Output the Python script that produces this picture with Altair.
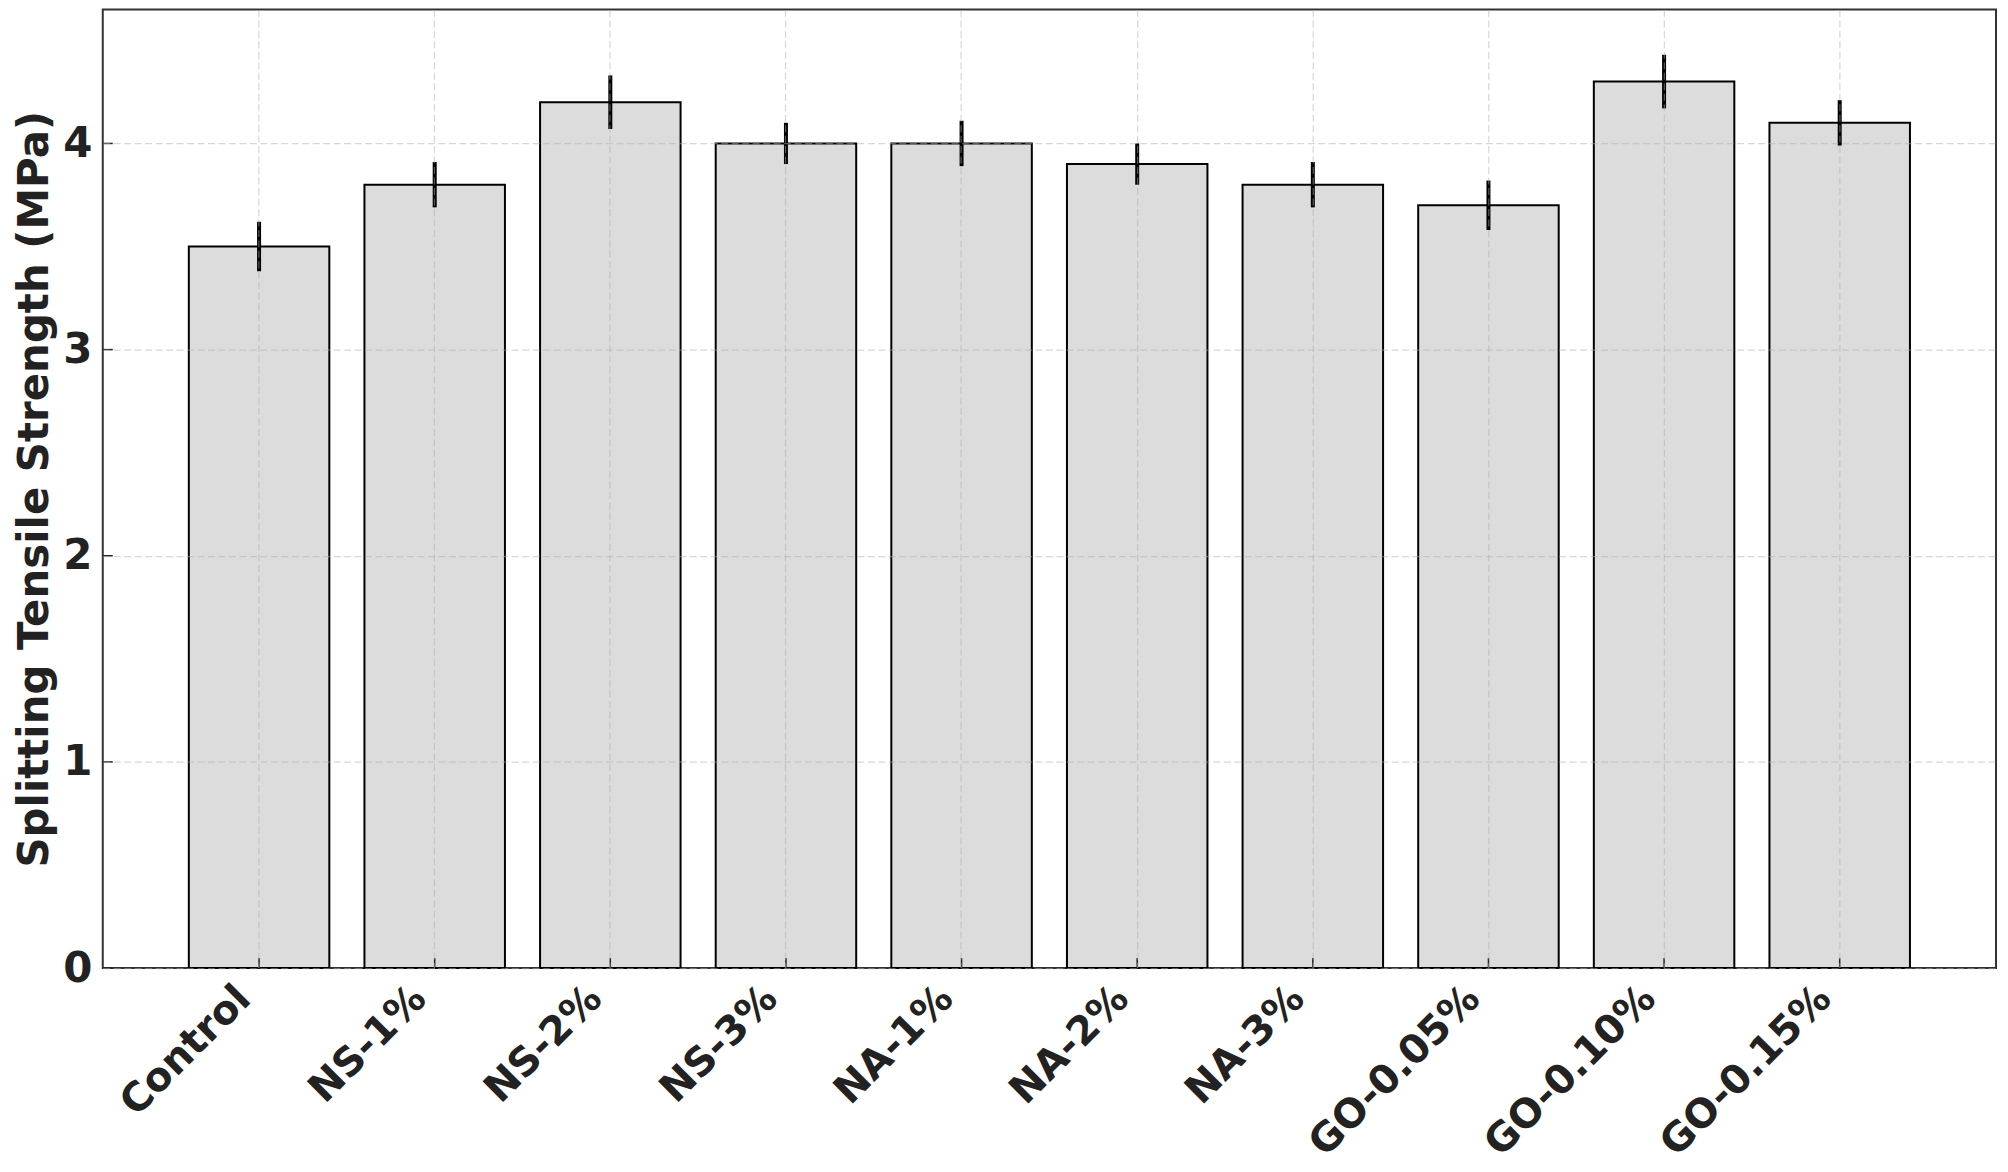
import altair as alt
import pandas as pd

categories = ["Control", "NS-1%", "NS-2%", "NS-3%", "NA-1%", "NA-2%", "NA-3%",
              "GO-0.05%", "GO-0.10%", "GO-0.15%"]
strength = [3.5, 3.8, 4.2, 4.0, 4.0, 3.9, 3.8, 3.7, 4.3, 4.1]
std_dev = [0.12, 0.11, 0.13, 0.10, 0.11, 0.10, 0.11, 0.12, 0.13, 0.11]
y_ticks = [0, 1, 2, 3, 4]

df = pd.DataFrame({"mix": categories, "strength": strength, "err": std_dev})
df["low"] = df["strength"] - df["err"]
df["high"] = df["strength"] + df["err"]
ticks_df = pd.DataFrame({"t": y_ticks})

FONT = "DejaVu Sans"
TXT = "#222222"
W, H = 1898, 961

x_scale = alt.Scale(domain=categories, paddingInner=0.2, paddingOuter=0.49)
y_scale = alt.Scale(domain=[0, 4.65], nice=False, zero=True)

x_axis = alt.Axis(
    title=None, labelAngle=-45, labelAlign="right", labelBaseline="top",
    labelFont=FONT, labelFontSize=40, labelFontWeight="bold", labelColor=TXT,
    labelPadding=10, labelOffset=-29, labelOverlap=False, labelFlush=False,
    labelLimit=0, labelBound=False, ticks=False,
    domain=False, grid=True, gridColor="#b0b0b0", gridOpacity=0.5,
    gridDash=[7, 3.5], gridWidth=1.2, zindex=1,
)
y_axis = alt.Axis(
    title="Splitting Tensile Strength (MPa)", values=y_ticks, format="d",
    labelFont=FONT, labelFontSize=42, labelFontWeight="bold", labelColor=TXT,
    labelPadding=11, ticks=False, domain=False,
    titleFont=FONT, titleFontSize=42, titleFontWeight="bold", titleColor=TXT,
    titlePadding=6, grid=True, gridColor="#b0b0b0", gridOpacity=0.5,
    gridDash=[7, 3.5], gridWidth=1.2, zindex=1,
)

base = alt.Chart(df)

bars = base.mark_bar(fill="#dcdcdc", stroke="black", strokeWidth=2).encode(
    x=alt.X("mix:N", scale=x_scale, sort=categories, axis=x_axis),
    y=alt.Y("strength:Q", scale=y_scale, axis=y_axis),
)

errs = base.mark_rule(color="black", strokeWidth=4).encode(
    x=alt.X("mix:N", sort=categories),
    y=alt.Y("low:Q"),
    y2="high:Q",
)

x_ticks = base.mark_rule(color=TXT, strokeWidth=1.5).encode(
    x=alt.X("mix:N", sort=categories),
    y=alt.value(H),
    y2=alt.value(H - 10),
)

y_tick_marks = alt.Chart(ticks_df).mark_rule(color=TXT, strokeWidth=1.5).encode(
    y=alt.Y("t:Q"),
    x=alt.value(0),
    x2=alt.value(10),
)

chart = alt.layer(bars, errs, x_ticks, y_tick_marks).properties(
    width=W, height=H,
    padding={"left": 95, "top": 0, "right": 4, "bottom": 201},
    autosize=alt.AutoSizeParams(type="none"),
).configure(
    background="white"
).configure_view(
    stroke="#333333", strokeWidth=2
)

chart.save("out.html", embed_options={"renderer": "svg", "actions": False})
